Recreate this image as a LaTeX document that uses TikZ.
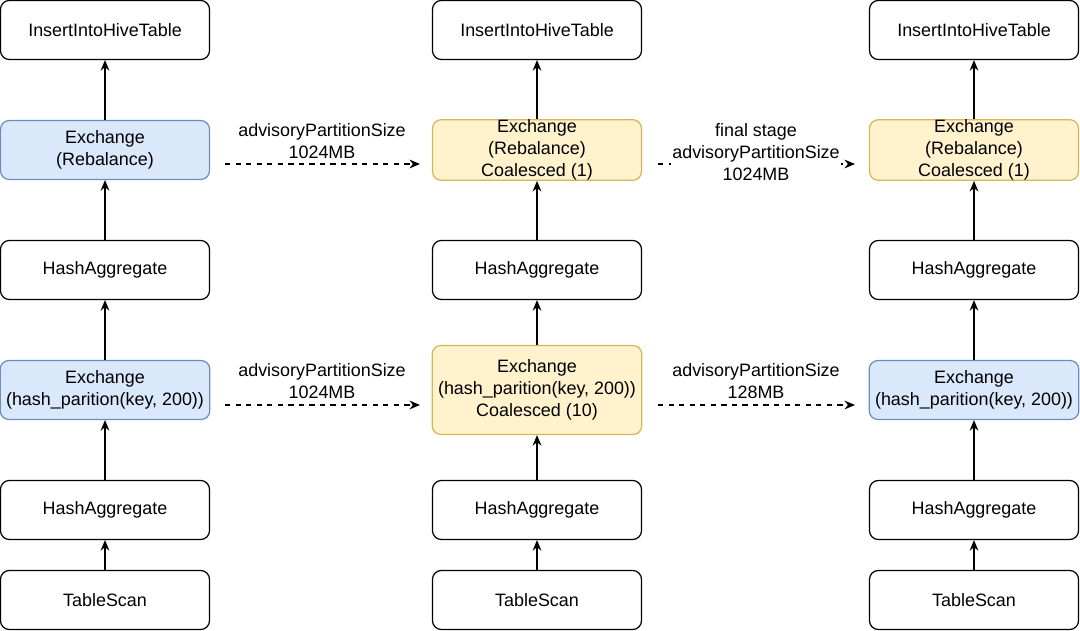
\documentclass[tikz,border=0pt]{standalone}
\usepackage{fontspec}
\setmainfont{Liberation Sans}
\usetikzlibrary{arrows.meta}
\definecolor{bluefill}{HTML}{DAE8FC}
\definecolor{blueline}{HTML}{6C8EBF}
\definecolor{yellowfill}{HTML}{FFF2CC}
\definecolor{yellowline}{HTML}{D6B656}
\begin{document}
\begin{tikzpicture}[-{Stealth[length=6pt,width=5pt]}, line width=0.7pt, node distance=2.4cm,
  main node/.style={rectangle, draw, rounded corners=5pt, minimum width=4.18cm, minimum height=1.18cm, fill=white},
  blue node/.style={main node, fill=bluefill, draw=blueline},
  yellow node/.style={main node, fill=yellowfill, draw=yellowline}]
        \tikzstyle{every node}=[font=\fontsize{10.2}{12.5}\selectfont, align=center]
        \useasboundingbox (0,0) rectangle (21.6,12.6);

          % plan 1
          \node[main node] (s1) at (2.1,0.6) {TableScan};
          \node[main node] (h1) [above of=s1, node distance=1.8cm] {HashAggregate};
          \node[blue node] (e1) [above of=h1] {Exchange\\(hash\_parition(key, 200))};
          \node[main node] (a1) [above of=e1] {HashAggregate};
          \node[blue node] (r1) [above of=a1] {Exchange\\(Rebalance)};
          \node[main node] (i1) [above of=r1] {InsertIntoHiveTable};

          % plan 2
          \node[main node] (s2) at (10.74,0.6) {TableScan};
          \node[main node] (h2) [above of=s2, node distance=1.8cm] {HashAggregate};
          \node[yellow node, minimum height=1.78cm] (e2) [above of=h2] {Exchange\\(hash\_parition(key, 200))\\Coalesced (10)};
          \node[main node] (a2) [above of=e2] {HashAggregate};
          \node[yellow node, inner ysep=0pt] (r2) [above of=a2] {Exchange\\(Rebalance)\\Coalesced (1)};
          \node[main node] (i2) [above of=r2] {InsertIntoHiveTable};

          % plan 3
          \node[main node] (s3) at (19.48,0.6) {TableScan};
          \node[main node] (h3) [above of=s3, node distance=1.8cm] {HashAggregate};
          \node[blue node] (e3) [above of=h3] {Exchange\\(hash\_parition(key, 200))};
          \node[main node] (a3) [above of=e3] {HashAggregate};
          \node[yellow node, inner ysep=0pt] (r3) [above of=a3] {Exchange\\(Rebalance)\\Coalesced (1)};
          \node[main node] (i3) [above of=r3] {InsertIntoHiveTable};

          \path (s1) edge (h1) (h1) edge (e1) (e1) edge (a1) (a1) edge (r1) (r1) edge (i1)
                (s2) edge (h2) (h2) edge (e2) (e2) edge (a2) (a2) edge (r2) (r2) edge (i2)
                (s3) edge (h3) (h3) edge (e3) (e3) edge (a3) (a3) edge (r3) (r3) edge (i3);

          % config steps
          \coordinate (t1) at (4.5,9.32);
          \coordinate (t2) at (8.4,9.32);
          \coordinate (t3) at (13.16,9.32);
          \coordinate (t4) at (17.1,9.32);
          \coordinate (b1) at (4.5,4.5);
          \coordinate (b2) at (8.4,4.5);
          \coordinate (b3) at (13.16,4.5);
          \coordinate (b4) at (17.1,4.5);

          \path[dashed] (t1) edge (t2) (t3) edge (t4) (b1) edge (b2) (b3) edge (b4);

          \node (l1) at (6.44,9.77) {advisoryPartitionSize\\1024MB};
          \node[fill=white, inner sep=1pt] (l2) at (15.12,9.56) {final stage\\advisoryPartitionSize\\1024MB};
          \node (l3) at (6.44,4.97) {advisoryPartitionSize\\1024MB};
          \node (l4) at (15.12,4.98) {advisoryPartitionSize\\128MB};

        \end{tikzpicture}
\end{document}
